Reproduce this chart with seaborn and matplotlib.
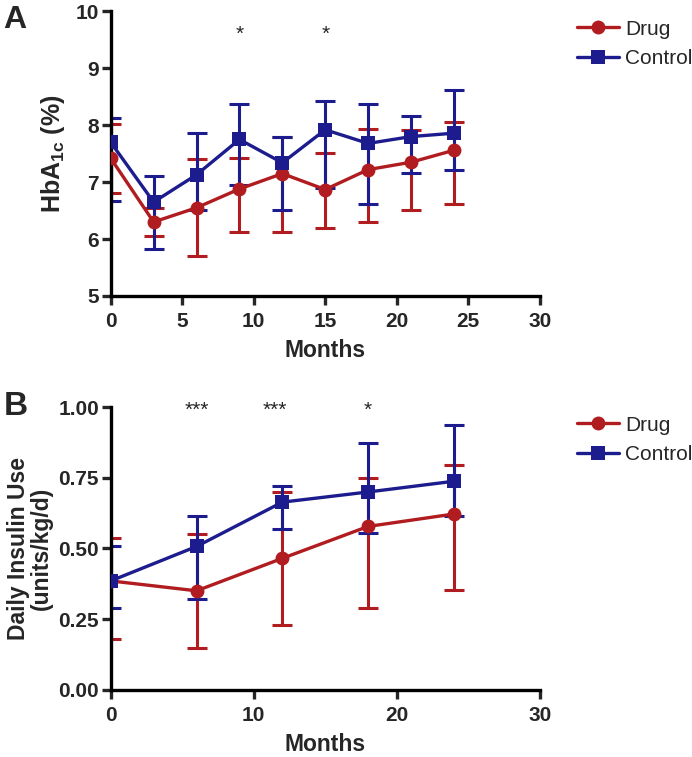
import numpy as np
import pandas as pd
import matplotlib
matplotlib.use("Agg")
import matplotlib.pyplot as plt
import seaborn as sns

# HbA1c (panel A)
months_a = [0, 3, 6, 9, 12, 15, 18, 21, 24]
hba_drug = [7.42, 6.30, 6.55, 6.88, 7.15, 6.87, 7.22, 7.35, 7.56]
hba_drug_lo = [6.81, 6.05, 5.70, 6.12, 6.12, 6.20, 6.30, 6.51, 6.61]
hba_drug_hi = [8.03, 6.55, 7.40, 7.42, 7.80, 7.51, 7.93, 7.91, 8.05]
hba_ctrl = [7.70, 6.65, 7.13, 7.75, 7.34, 7.92, 7.68, 7.80, 7.86]
hba_ctrl_lo = [6.67, 5.82, 6.51, 6.95, 6.51, 6.90, 6.61, 7.16, 7.21]
hba_ctrl_hi = [8.12, 7.10, 7.86, 8.37, 7.80, 8.42, 8.37, 8.16, 8.61]
stars_a = [(9, "*"), (15, "*")]

# Daily insulin use (panel B)
months_b = [0, 6, 12, 18, 24]
ins_drug = [0.385, 0.350, 0.465, 0.578, 0.622]
ins_drug_lo = [0.178, 0.147, 0.230, 0.290, 0.353]
ins_drug_hi = [0.538, 0.550, 0.700, 0.748, 0.794]
ins_ctrl = [0.385, 0.507, 0.664, 0.700, 0.738]
ins_ctrl_lo = [0.290, 0.320, 0.570, 0.553, 0.615]
ins_ctrl_hi = [0.507, 0.615, 0.720, 0.875, 0.937]
stars_b = [(6, "***"), (11.5, "***"), (18, "*")]

groups = ["Drug", "Control"]
colors = {"Drug": "#B01C20", "Control": "#1C1C8E"}
markers = {"Drug": "o", "Control": "s"}

sns.set_style("white")
plt.rcParams["font.family"] = ["Liberation Sans", "DejaVu Sans"]
plt.rcParams["mathtext.fontset"] = "custom"
plt.rcParams["mathtext.rm"] = "Liberation Sans:bold"
plt.rcParams["mathtext.it"] = "Liberation Sans:bold"
plt.rcParams["mathtext.bf"] = "Liberation Sans:bold"

fig = plt.figure(figsize=(6.92, 7.57), dpi=100)
ax_a = fig.add_axes([0.160, 0.609, 0.620, 0.376])
ax_b = fig.add_axes([0.160, 0.089, 0.620, 0.373])


def draw_panel(ax, x, drug, dlo, dhi, ctrl, clo, chi):
    df = pd.DataFrame({
        "Months": list(x) * 2,
        "value": list(drug) + list(ctrl),
        "group": ["Drug"] * len(x) + ["Control"] * len(x),
    })
    errs = {"Drug": (drug, dlo, dhi), "Control": (ctrl, clo, chi)}
    for g in groups:
        m, lo, hi = errs[g]
        m = np.array(m); lo = np.array(lo); hi = np.array(hi)
        ax.errorbar(x, m, yerr=[m - lo, hi - m], fmt="none", ecolor=colors[g],
                    elinewidth=2.2, capsize=7, capthick=2.2, zorder=2)
    sns.lineplot(data=df, x="Months", y="value", hue="group", style="group",
                 hue_order=groups, style_order=groups, palette=colors,
                 markers=markers, dashes=False, linewidth=2.4, markersize=10,
                 markeredgewidth=0, ax=ax, zorder=3)
    for s in ["top", "right"]:
        ax.spines[s].set_visible(False)
    for s in ["left", "bottom"]:
        ax.spines[s].set_linewidth(2.4)
        ax.spines[s].set_color("black")
    ax.tick_params(direction="out", length=6.5, width=2.4, labelsize=15,
                   left=True, bottom=True)
    ax.tick_params(axis="x", pad=5)
    ax.tick_params(axis="y", pad=2)
    ax.set_xlabel("Months", fontsize=16.5, fontweight="bold", labelpad=6)
    ax.legend_.remove()


draw_panel(ax_a, months_a, hba_drug, hba_drug_lo, hba_drug_hi,
           hba_ctrl, hba_ctrl_lo, hba_ctrl_hi)
ax_a.set_xlim(0, 30)
ax_a.set_ylim(5, 10)
ax_a.set_xticks([0, 5, 10, 15, 20, 25, 30])
ax_a.set_yticks([5, 6, 7, 8, 9, 10])
ax_a.set_xticklabels([0, 5, 10, 15, 20, 25, 30], fontweight="bold")
ax_a.set_yticklabels([5, 6, 7, 8, 9, 10], fontweight="bold")
ax_a.set_ylabel("HbA$_{1c}$ (%)", fontsize=18, fontweight="bold", labelpad=6)
for xs, t in stars_a:
    ax_a.text(xs, 9.6, t, ha="center", va="center", fontsize=15)

draw_panel(ax_b, months_b, ins_drug, ins_drug_lo, ins_drug_hi,
           ins_ctrl, ins_ctrl_lo, ins_ctrl_hi)
ax_b.set_xlim(0, 30)
ax_b.set_ylim(0, 1.0)
ax_b.set_xticks([0, 10, 20, 30])
ax_b.set_yticks([0, 0.25, 0.5, 0.75, 1.0])
ax_b.set_xticklabels([0, 10, 20, 30], fontweight="bold")
ax_b.set_yticklabels(["0.00", "0.25", "0.50", "0.75", "1.00"], fontweight="bold")
ax_b.set_ylabel("Daily Insulin Use\n(units/kg/d)", fontsize=16.5,
                fontweight="bold", labelpad=4, linespacing=1.0)
for xs, t in stars_b:
    ax_b.text(xs, 0.99, t, ha="center", va="center", fontsize=15)

for ax, anchor in [(ax_a, (0.822, 0.985)), (ax_b, (0.822, 0.462))]:
    handles = []
    for g in groups:
        h, = ax.plot([], [], color=colors[g], marker=markers[g], lw=2.4,
                     markersize=10, markeredgewidth=0, label=g)
        handles.append(h)
    fig.legend(handles=handles, loc="upper left", bbox_to_anchor=anchor,
               frameon=False, fontsize=15, handlelength=2.0, handletextpad=0.3,
               labelspacing=0.5, borderaxespad=0)

fig.text(0.005, 0.993, "A", fontsize=23, fontweight="bold", va="top")
fig.text(0.005, 0.484, "B", fontsize=24, fontweight="bold", va="top")

fig.savefig("out.png", dpi=100)
